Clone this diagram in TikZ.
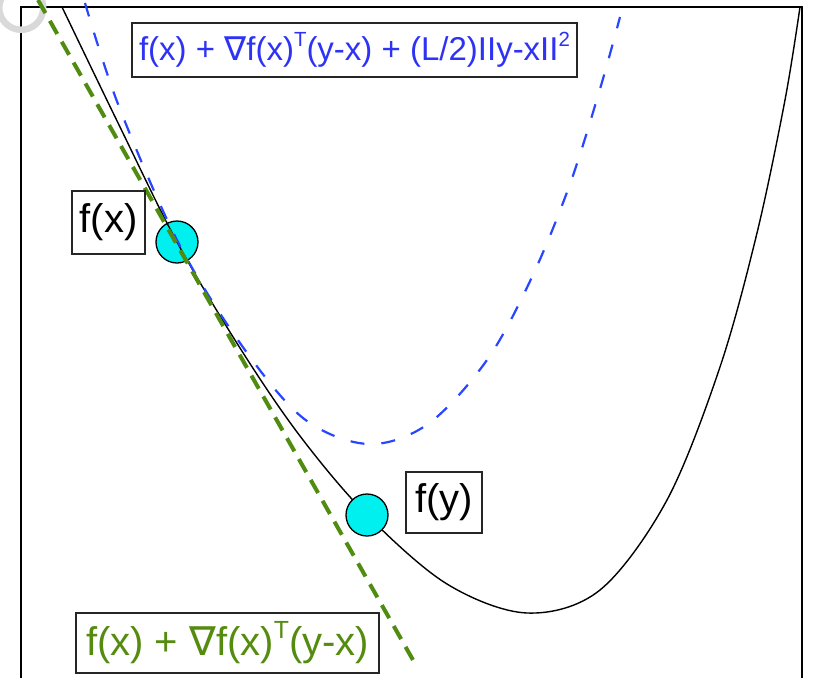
\documentclass[tikz,border=0pt]{standalone}
\usepackage{fontspec}
\setmainfont{Liberation Sans}
\newfontfamily\nablafont{DejaVu Sans}
\definecolor{bluec}{RGB}{40,70,255}
\definecolor{bluet}{RGB}{45,50,245}
\definecolor{greenc}{RGB}{80,140,15}
\definecolor{greent}{RGB}{85,140,15}
\definecolor{ptfill}{RGB}{0,240,240}
\newcommand{\supr}[1]{\raisebox{0.42em}{\scalebox{0.62}{#1}}}
\begin{document}
\begin{tikzpicture}[x=1pt,y=-1pt,
  lbl/.style={draw=black!85, line width=1.3pt, fill=white, inner sep=0pt, align=center},
  ptnode/.style={circle, draw=black, line width=1.3pt, fill=ptfill, minimum size=42pt, inner sep=0pt},
  fcurve/.style={black, line width=1.4pt},
  qcurve/.style={bluec, line width=2.2pt, dash pattern=on 14pt off 17pt},
  lcurve/.style={greenc, line width=4pt, dash pattern=on 15pt off 9pt},
  framestyle/.style={black, line width=2.8pt},
  big/.style={font=\fontsize{40}{48}\selectfont}]
\useasboundingbox (0,0) rectangle (815,678);
% frame
\coordinate (fbl) at (21,680);
\coordinate (ftl) at (21,7);
\coordinate (ftr) at (802,7);
\coordinate (fbr) at (802,680);
\draw[framestyle] (fbl) -- (ftl) -- (ftr) -- (fbr);
% watermark fragment
\draw[gray!30, line width=6.5pt] (1.3,-1.5) arc[start angle=205, end angle=-20, radius=22];
% point f(x) (drawn below the curves)
\node[ptnode] (px) at (177,242) {};
% function
\draw[fcurve] plot[smooth, tension=0.55] coordinates {(62,7) (120,127) (177,242) (240,348) (300,436) (367,515) (447,584) (527,613) (600,590) (667,500) (720,367) (757,233) (785,100) (800,7)};
% quadratic upper bound
\draw[qcurve] plot[smooth, tension=0.55] coordinates {(85,3) (118,104) (177,240) (240,343) (303,418) (368,444) (428,424) (487,360) (532,277) (570,184) (600,89) (620,17)};
% tangent line
\coordinate (g1) at (38,0);
\coordinate (g2) at (417,667);
\draw[lcurve] (g1) -- (g2);
% point f(y)
\node[ptnode] (py) at (367,515) {};
% labels
\node[lbl, big, minimum width=73pt, minimum height=63pt] (lfx) at (108.5,222.5) {f(x)};
\node[lbl, big, minimum width=76pt, minimum height=61pt] (lfy) at (444,502.5) {f(y)};
\node[lbl, text=bluet, font=\fontsize{33}{40}\selectfont, minimum width=445pt, minimum height=54pt] (lq) at (354.5,50) {f(x) + {\nablafont ∇}f(x)\supr{T}(y-x) + (L/2)IIy-xII\supr{2}};
\node[lbl, big, text=greent, minimum width=303pt, minimum height=60pt] (ll) at (227.5,643) {f(x) + {\nablafont ∇}f(x)\supr{T}(y-x)};
\end{tikzpicture}
\end{document}
